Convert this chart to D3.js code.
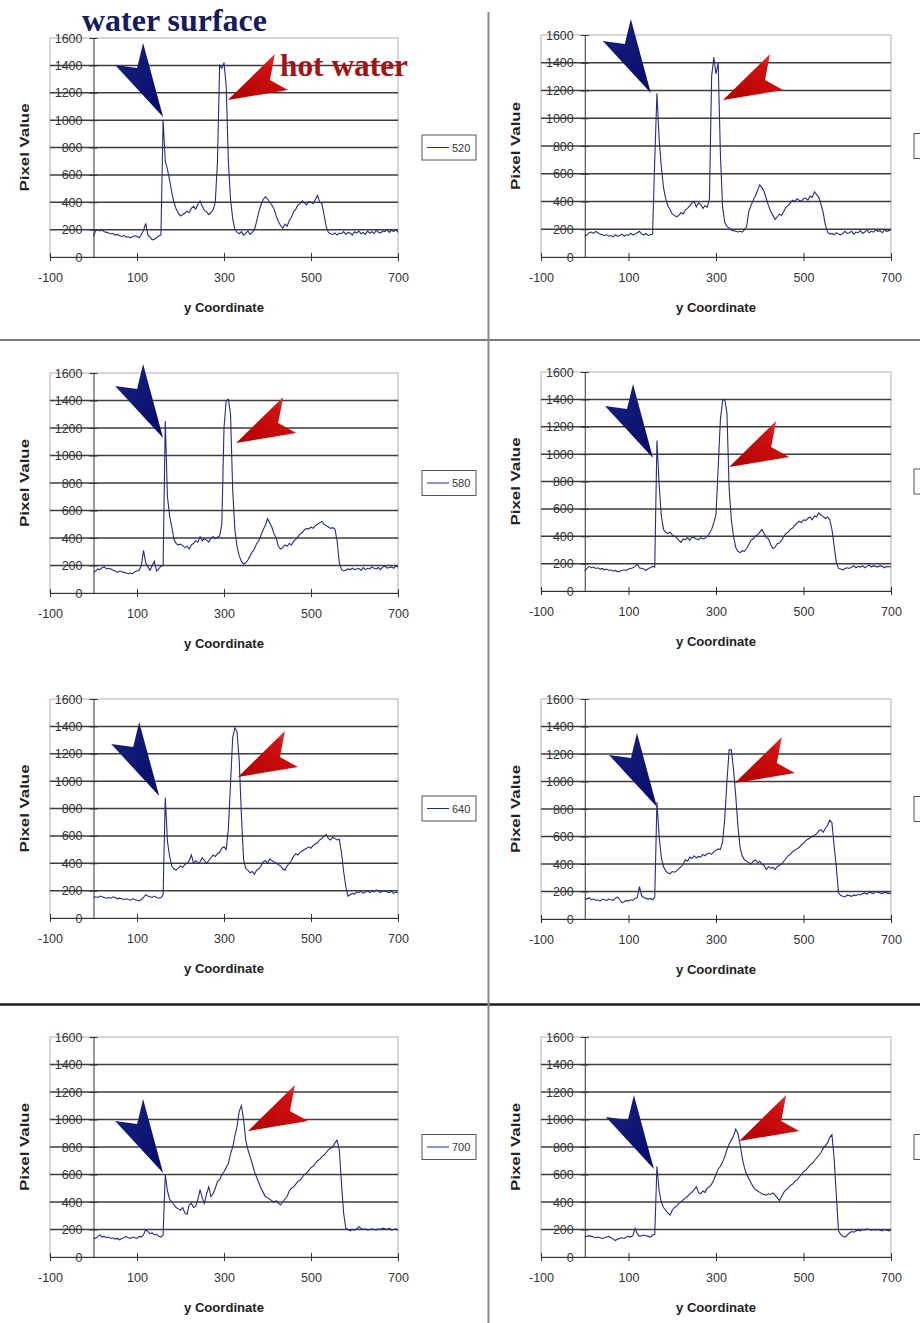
<!DOCTYPE html>
<html lang="en">
<head>
<meta charset="UTF-8">
<title>Pixel Value vs y Coordinate</title>
<script src="https://d3js.org/d3.v7.min.js"></script>
<style>
  body { margin: 0; background: #fff; }
  .axis path, .axis line { stroke: #333; }
  .axis text {
    font-family: "Liberation Sans", Arial, sans-serif;
    font-size: 12.5px;
    fill: #333;
  }
  .axis-title {
    font-family: "Liberation Sans", Arial, sans-serif;
    font-size: 13px;
    font-weight: bold;
    fill: #222;
  }
  .legend-text {
    font-family: "Liberation Sans", Arial, sans-serif;
    font-size: 11px;
    fill: #333;
  }
  .note {
    font-family: "Liberation Serif", "Times New Roman", serif;
    font-weight: bold;
    font-size: 32px;
  }
</style>
</head>
<body>
<script>
// sample positions along the profile (y coordinate, every 5 px)
const yCoord = d3.range(0, 701, 5);

// pixel value profiles, one per image column
const col520 = [
  150,195,200,190,195,185,180,175,170,172,160,165,155,150,158,145,148,140,150,155,
  150,140,165,195,245,160,145,125,130,140,155,160,1000,700,640,560,470,400,350,320,
  300,310,320,335,325,355,370,350,385,410,370,340,330,310,325,345,400,700,1400,1380,
  1420,1250,700,420,280,200,180,170,185,160,175,190,165,180,200,260,330,380,420,440,
  425,400,380,350,300,260,230,210,240,225,265,290,330,350,380,390,410,395,380,405,
  400,390,420,450,400,390,310,220,180,170,165,175,160,175,170,185,165,180,175,160,
  185,175,190,170,180,165,190,175,185,170,195,180,175,190,185,200,180,195,185,200,
  180
];
const col550 = [
  150,160,175,180,170,185,175,165,160,155,160,150,155,145,160,150,155,165,150,160,
  155,170,160,165,175,185,165,160,170,155,160,165,700,1180,850,650,500,420,370,340,
  310,300,290,300,320,310,340,350,370,390,400,360,390,380,350,370,360,420,1300,1440,
  1320,1400,750,360,250,220,210,195,190,185,180,185,180,195,220,330,370,410,440,480,
  520,500,470,420,370,330,300,270,290,310,300,330,360,370,390,410,400,420,410,400,
  420,425,410,440,430,470,450,430,380,320,230,180,165,170,160,175,165,160,170,185,
  170,175,185,165,180,175,190,170,180,195,175,185,180,195,185,190,175,195,185,190,
  195
];
const col580 = [
  150,160,175,170,185,190,175,180,175,165,160,150,160,155,150,145,140,145,140,155,
  160,165,200,310,220,190,165,200,230,160,175,195,200,1250,700,560,480,390,360,350,
  355,345,330,340,320,350,360,380,370,410,380,395,385,370,400,410,395,405,415,500,
  1200,1400,1410,1300,750,460,340,270,230,210,220,240,270,300,320,360,380,420,460,490,
  540,510,480,430,400,340,320,330,350,340,360,350,375,390,410,430,440,460,470,465,
  480,470,490,500,510,520,500,490,480,470,475,465,380,220,170,160,165,175,170,180,
  170,175,180,165,185,170,180,175,190,180,175,185,170,190,195,180,185,190,180,195,
  190
];
const col610 = [
  145,165,180,170,175,165,170,160,165,155,160,150,155,145,150,140,145,150,155,150,
  160,165,170,180,195,170,165,160,150,165,170,180,175,1100,780,550,450,430,420,430,
  410,400,390,370,355,380,375,390,370,395,390,380,375,390,380,385,400,420,450,500,
  560,900,1250,1390,1400,1300,750,520,400,320,290,280,295,290,310,340,370,380,400,410,
  430,450,420,390,380,340,310,320,345,350,370,400,420,430,450,460,480,495,510,500,
  520,515,530,540,520,550,540,570,555,545,530,540,520,450,330,210,165,160,155,165,
  170,165,175,185,170,180,175,185,170,180,190,175,185,180,175,185,180,170,180,175,
  180
];
const col640 = [
  150,155,150,160,155,150,145,150,145,155,150,140,145,140,135,140,135,130,140,135,
  130,125,135,150,170,160,155,150,160,150,145,150,170,880,560,450,380,360,350,365,
  380,370,390,400,420,460,400,420,400,410,440,420,400,420,440,460,450,470,480,510,
  520,500,650,980,1320,1390,1360,1150,750,430,360,350,330,340,320,350,360,380,410,420,
  400,430,420,410,400,390,380,360,350,380,400,420,450,470,460,480,490,500,510,520,
  510,530,540,550,570,580,600,610,580,570,590,580,570,575,480,340,230,160,170,180,
  175,190,185,195,180,190,200,185,195,190,205,195,185,200,195,190,185,195,180,190,
  185
];
const col670 = [
  150,145,155,140,145,135,140,130,145,140,135,145,140,135,150,160,140,120,125,135,
  130,140,135,150,155,235,170,155,150,145,150,140,160,850,600,450,380,350,335,330,
  345,340,350,365,380,400,430,420,450,440,460,445,455,450,470,460,475,480,470,490,
  500,510,505,560,730,1000,1230,1230,1090,900,680,520,460,430,420,410,400,420,430,410,
  420,400,390,360,380,370,375,360,380,390,400,420,440,460,470,490,500,510,520,540,
  550,570,580,590,600,610,620,640,650,630,660,680,720,700,530,380,190,170,165,160,
  175,170,165,175,170,180,175,185,190,180,195,190,185,200,195,190,185,195,190,185,
  190
];
const col700 = [
  140,135,150,160,145,150,140,145,135,140,130,135,125,135,140,150,140,135,145,140,
  135,150,145,160,200,185,170,175,160,165,150,145,160,600,480,420,400,380,360,350,
  340,360,320,310,380,390,360,370,420,490,430,390,460,510,440,460,500,550,560,600,
  620,650,680,750,800,880,950,1060,1100,1000,850,780,730,680,620,580,540,500,470,440,
  430,420,410,400,410,390,380,400,420,440,480,500,510,530,550,560,580,600,610,630,
  650,660,680,700,710,730,740,760,780,790,800,830,850,780,540,320,210,200,190,200,
  195,205,220,210,200,205,195,200,205,200,195,205,200,210,205,200,210,195,200,205,
  195
];
const col730 = [
  145,150,155,150,145,140,145,140,135,140,145,150,140,130,120,130,135,140,135,145,
  150,145,155,210,170,150,155,160,155,150,145,160,165,660,480,400,360,340,320,305,
  340,360,370,390,400,415,430,440,460,470,490,510,470,460,480,470,500,510,530,560,
  600,640,660,690,730,780,820,850,880,930,900,820,720,650,600,570,540,510,490,480,
  470,460,455,450,460,455,465,450,430,410,440,470,490,500,520,530,550,560,580,600,
  620,630,650,670,680,700,720,740,760,790,810,830,870,890,720,450,190,165,150,145,
  160,175,185,180,190,195,190,200,195,205,200,195,200,195,200,195,190,200,195,190,
  195
];

const profiles = [col520, col550, col580, col610, col640, col670, col700, col730];
const legendLabels = ['520', '550', '580', '610', '640', '670', '700', '730'];

const xTicks = [-100, 100, 300, 500, 700];
const yTicks = [0, 200, 400, 600, 800, 1000, 1200, 1400, 1600];

// arrow tips in data units: [y coordinate, pixel value]
const surfaceTips = [[160, 1023], [151, 1182], [160, 1127], [156, 972], [151, 891], [165, 815], [160, 611], [158, 640]];
const hotTips = [[309, 1147], [316, 1131], [328, 1091], [330, 906], [332, 1030], [343, 989], [355, 916], [353, 844]];

// ---------- layout ----------
const width = 920, height = 1323;
const panels = [
  { left: 50,  right: 398, top: 38,   bottom: 257 },
  { left: 541, right: 891, top: 35,   bottom: 257 },
  { left: 50,  right: 398, top: 373,  bottom: 593 },
  { left: 541, right: 891, top: 372,  bottom: 591 },
  { left: 50,  right: 398, top: 699,  bottom: 918 },
  { left: 541, right: 891, top: 699,  bottom: 919 },
  { left: 50,  right: 398, top: 1037, bottom: 1257 },
  { left: 541, right: 891, top: 1037, bottom: 1257 }
];
const blueShape = [[0, 0], [-20, -74], [-26, -49], [-48, -52]];
const redShape = [[0, 0], [47, -46], [42, -20], [60, -10]];

const svg = d3.select('body').append('svg')
  .attr('width', width).attr('height', height)
  .style('background', '#fff');

const defs = svg.append('defs');
const redGrad = defs.append('linearGradient').attr('id', 'redGrad')
  .attr('x1', 0).attr('y1', 1).attr('x2', 1).attr('y2', 0);
redGrad.append('stop').attr('offset', '0%').attr('stop-color', '#b00000');
redGrad.append('stop').attr('offset', '70%').attr('stop-color', '#d01010');
redGrad.append('stop').attr('offset', '100%').attr('stop-color', '#e85050');
const blueGrad = defs.append('linearGradient').attr('id', 'blueGrad')
  .attr('x1', 0).attr('y1', 0).attr('x2', 1).attr('y2', 1);
blueGrad.append('stop').attr('offset', '0%').attr('stop-color', '#1a237e');
blueGrad.append('stop').attr('offset', '100%').attr('stop-color', '#060a6a');

// separators between the slide sections
svg.append('line').attr('x1', 0).attr('x2', width).attr('y1', 340).attr('y2', 340)
  .attr('stroke', '#7a7a7a').attr('stroke-width', 2);
svg.append('line').attr('x1', 0).attr('x2', width).attr('y1', 1004.5).attr('y2', 1004.5)
  .attr('stroke', '#1e1e1e').attr('stroke-width', 2.5);
svg.append('line').attr('x1', 488.5).attr('x2', 488.5).attr('y1', 12).attr('y2', height)
  .attr('stroke', '#8a8a8a').attr('stroke-width', 2);

panels.forEach((p, i) => {
  const x = d3.scaleLinear().domain([-100, 700]).range([p.left, p.right]);
  const y = d3.scaleLinear().domain([0, 1600]).range([p.bottom, p.top]);
  const g = svg.append('g');

  g.append('rect')
    .attr('x', p.left).attr('y', p.top)
    .attr('width', p.right - p.left).attr('height', p.bottom - p.top)
    .attr('fill', '#fff').attr('stroke', '#b0b0b0');

  g.selectAll('.grid')
    .data(yTicks.slice(1, -1))
    .join('line')
    .attr('x1', p.left).attr('x2', p.right)
    .attr('y1', d => y(d)).attr('y2', d => y(d))
    .attr('stroke', '#3c3c3c').attr('stroke-width', 1.5);

  const yAxis = g.append('g').attr('class', 'axis')
    .attr('transform', `translate(${x(0)},0)`)
    .call(d3.axisLeft(y).tickValues(yTicks).tickFormat(d => String(d))
      .tickSize(4).tickSizeOuter(0).tickPadding(7));
  yAxis.selectAll('.tick line').attr('x1', 4);

  const xAxis = g.append('g').attr('class', 'axis')
    .attr('transform', `translate(0,${y(0)})`)
    .call(d3.axisBottom(x).tickValues(xTicks).tickFormat(d => String(d))
      .tickSize(4).tickSizeOuter(0).tickPadding(12));
  xAxis.selectAll('.tick line').attr('y1', -4);

  g.append('text').attr('class', 'axis-title')
    .attr('transform', `translate(${p.left - 26},${(p.top + p.bottom) / 2}) rotate(-90)`)
    .attr('text-anchor', 'middle').attr('dy', '0.35em')
    .attr('textLength', 88).attr('lengthAdjust', 'spacingAndGlyphs')
    .text('Pixel Value');

  g.append('text').attr('class', 'axis-title')
    .attr('x', (p.left + p.right) / 2).attr('y', p.bottom + 55)
    .attr('text-anchor', 'middle')
    .attr('textLength', 80).attr('lengthAdjust', 'spacingAndGlyphs')
    .text('y Coordinate');

  const line = d3.line()
    .x(d => x(d[0]))
    .y(d => y(d[1]));
  g.append('path')
    .datum(yCoord.map((c, k) => [c, profiles[i][k]]))
    .attr('fill', 'none')
    .attr('stroke', '#262c82')
    .attr('stroke-width', 1.1)
    .attr('d', line);

  // legend (the right-hand column's legends run off the page edge)
  const lx = i % 2 === 0 ? 422 : 914;
  const ly = (p.top + p.bottom) / 2;
  g.append('rect').attr('x', lx).attr('y', ly - 12.5).attr('width', 54).attr('height', 25)
    .attr('fill', '#fff').attr('stroke', '#555');
  if (lx + 54 <= width) {
    g.append('line').attr('x1', lx + 5).attr('x2', lx + 27).attr('y1', ly).attr('y2', ly)
      .attr('stroke', '#262c82');
    g.append('text').attr('class', 'legend-text')
      .attr('x', lx + 30).attr('y', ly + 4).text(legendLabels[i]);
  }

  // arrows
  const bt = [x(surfaceTips[i][0]), y(surfaceTips[i][1])];
  g.append('polygon')
    .attr('points', blueShape.map(d => [bt[0] + d[0], bt[1] + d[1]].join(',')).join(' '))
    .attr('fill', 'url(#blueGrad)');
  const rt = [x(hotTips[i][0]), y(hotTips[i][1])];
  g.append('polygon')
    .attr('points', redShape.map(d => [rt[0] + d[0], rt[1] + d[1]].join(',')).join(' '))
    .attr('fill', 'url(#redGrad)');
});

svg.append('text').attr('class', 'note')
  .attr('x', 82).attr('y', 31)
  .attr('fill', '#151b5e')
  .attr('textLength', 185).attr('lengthAdjust', 'spacingAndGlyphs')
  .text('water surface');
svg.append('text').attr('class', 'note')
  .attr('x', 280).attr('y', 76)
  .attr('fill', '#a01515')
  .attr('textLength', 128).attr('lengthAdjust', 'spacingAndGlyphs')
  .text('hot water');
</script>
</body>
</html>
